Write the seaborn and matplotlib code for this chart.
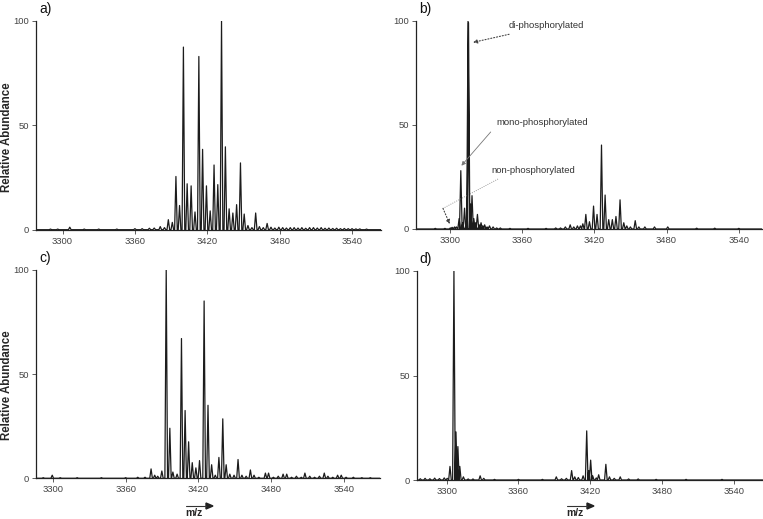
import seaborn as sns
import matplotlib.pyplot as plt
import numpy as np

# peak lists (m/z, relative abundance)
mz_a = [3290, 3296, 3306, 3318, 3330, 3345, 3360, 3366, 3372, 3376, 3381, 3384.5,
        3387.7, 3391, 3394, 3397, 3400.2, 3403.3, 3406.6, 3409.8, 3413, 3416.1,
        3419.3, 3422.4, 3425.6, 3428.7, 3431.8, 3435, 3438.1, 3441.2, 3444.3,
        3447.5, 3450.6, 3453.7, 3457, 3460.1, 3463.2, 3466.4, 3469.6, 3472.8,
        3476, 3479.3, 3482.5, 3485.6, 3488.8, 3492, 3495.2, 3498.4, 3501.6,
        3504.8, 3508, 3511.2, 3514.4, 3517.6, 3520.8, 3524, 3527.2, 3530.4,
        3533.6, 3536.8, 3540, 3543.2, 3546.4, 3552]
int_a = [0.3, 0.3, 1.2, 0.3, 0.3, 0.3, 0.5, 0.5, 0.7, 0.8, 1.5, 1.0,
         4.8, 3.5, 25.5, 11.6, 87.5, 22, 21, 8.5, 83, 38.5,
         21, 9, 31, 21.6, 100, 39.7, 10, 8, 12,
         32, 7.5, 2, 1, 8, 1.5, 1, 3, 1.2,
         0.8, 1.2, 1, 0.8, 1, 1, 0.8, 1, 0.7,
         1, 1, 0.8, 1, 0.7, 0.8, 0.6, 0.7, 0.5,
         0.6, 0.5, 0.5, 0.4, 0.4, 0.3]

mz_b = [3288, 3296, 3300.5, 3302, 3304, 3305.5, 3307.8, 3309.2, 3310.8, 3312.3,
        3313.8, 3315.2, 3315.6, 3317.2, 3318.5, 3320, 3321.5, 3323, 3324.5, 3326,
        3327.5, 3329, 3331, 3333, 3336, 3339, 3342, 3350, 3365, 3380, 3388, 3392,
        3396, 3400, 3403, 3406, 3408.5, 3410.5, 3413, 3416, 3419.4, 3422.3, 3426,
        3429, 3432, 3435, 3438, 3441.4, 3444.5, 3447, 3450, 3454, 3457, 3462,
        3470, 3481, 3505, 3520, 3540]
int_b = [0.3, 0.3, 0.5, 0.8, 1, 1, 5, 28, 3, 10,
         2, 100, 99, 12, 16, 5, 3, 7, 2, 3,
         1.5, 2, 1, 1.5, 1, 0.5, 0.5, 0.3, 0.3, 0.3, 0.5, 0.5,
         1, 2, 1, 1.5, 1.5, 2.5, 7, 3.5, 11, 7, 40.3,
         16.3, 4.5, 4.5, 6, 14, 3, 1.5, 1, 4, 1, 1,
         1, 1, 0.4, 0.4, 0.3]

mz_c = [3292, 3299.4, 3306, 3320, 3340, 3360, 3370, 3376, 3381, 3384, 3386.5,
        3389.9, 3393.5, 3396.5, 3399, 3402.5, 3406.1, 3409.1, 3412, 3415, 3418,
        3421, 3424.8, 3428, 3431, 3434, 3437, 3440.2, 3443, 3446, 3449.5,
        3452.8, 3456, 3459.5, 3463, 3466, 3470, 3475.4, 3478, 3482, 3486,
        3490, 3493, 3497, 3501, 3505, 3508, 3512, 3516, 3520, 3524, 3527,
        3531, 3535, 3538, 3542, 3548, 3555, 3562]
int_c = [0.3, 1.5, 0.3, 0.3, 0.3, 0.3, 0.5, 0.5, 4.5, 1.5, 1,
         3.5, 100, 24, 3, 2, 67, 32.5, 17.5, 7.5, 5,
         8.5, 85, 35, 6.5, 1.5, 10, 28.5, 6.5, 2, 1.5,
         9, 1.5, 1, 4, 1.5, 0.5, 2.5, 2.5, 0.5, 1,
         2, 2, 0.5, 1, 0.5, 2.5, 1, 0.5, 1, 2.5, 1,
         0.5, 1.5, 1.5, 0.5, 0.5, 0.3, 0.3]

mz_d = [3278, 3282, 3286, 3290, 3294, 3298, 3300.5, 3302.8, 3306.1, 3307.8,
        3309.4, 3311, 3314, 3318, 3322, 3328, 3331, 3340, 3360, 3380, 3391.6,
        3396, 3400, 3404.4, 3407, 3410, 3414, 3417, 3418.7, 3420.3, 3422, 3425,
        3427, 3433, 3436, 3440, 3445, 3452, 3460, 3475, 3500, 3530]
int_d = [0.6, 0.8, 0.6, 0.9, 0.7, 1, 0.8, 6.5, 100, 23,
         16, 6.5, 1.5, 0.5, 0.5, 2, 0.8, 0.3, 0.3, 0.3, 1.5,
         0.6, 0.8, 4.5, 1.5, 1.2, 2, 23.5, 4.5, 9.5, 2, 1,
         2.5, 7.5, 1.5, 0.8, 1.5, 0.5, 0.5, 0.3, 0.3, 0.3]

panels = [
    ("a)", mz_a, int_a, (3278, 3564), [36, 21, 381, 229.7]),
    ("b)", mz_b, int_b, (3272, 3559), [416, 20.7, 761.7, 229]),
    ("c)", mz_c, int_c, (3286, 3570), [36, 269.7, 380, 478.3]),
    ("d)", mz_d, int_d, (3275, 3564), [416.7, 271, 762.7, 480]),
]

W, H = 763, 519
HALF = 1.1  # half width of a peak at its base, in m/z


def profile(mz, inten, xlim):
    # turn a peak list into a profile trace: baseline - apex - baseline
    xs, ys = [xlim[0]], [0.0]
    for m, h in zip(mz, inten):
        xs += [m - HALF, m, m + HALF]
        ys += [0.0, h, 0.0]
    xs.append(xlim[1])
    ys.append(0.0)
    return np.array(xs), np.array(ys)


sns.set_style("ticks")
plt.rcParams['font.family'] = ['Liberation Sans', 'DejaVu Sans']

fig = plt.figure(figsize=(W / 100, H / 100), dpi=100)
axes = {}
for label, mz, inten, xlim, (x0, y0, x1, y1) in panels:
    ax = fig.add_axes([x0 / W, 1 - y1 / H, (x1 - x0) / W, (y1 - y0) / H])
    xs, ys = profile(mz, inten, xlim)
    sns.lineplot(x=xs, y=ys, sort=False, estimator=None, ax=ax,
                 color="#1c1c1c", linewidth=0.9)
    ax.set_xlim(*xlim)
    ax.set_ylim(0, 100)
    ax.set_xticks([3300, 3360, 3420, 3480, 3540])
    ax.set_yticks([0, 50, 100])
    ax.tick_params(direction="out", length=3, width=0.6, labelsize=6.8,
                   labelcolor="#444444", color="#444444", pad=2)
    sns.despine(ax=ax)
    for s in ("left", "bottom"):
        ax.spines[s].set_linewidth(0.9)
        ax.spines[s].set_color("#222222")
    ax.set_xlabel("")
    ax.set_ylabel("")
    fig.text((x0 + 3) / W, 1 - (y0 - 12) / H, label, fontsize=10,
             ha="left", va="center", color="#111111")
    axes[label] = ax

# y labels
for yc in (137, 385):
    fig.text(7 / W, 1 - yc / H, "Relative Abundance", rotation=90,
             fontsize=8.3, fontweight="bold", ha="center", va="center")

# m/z labels with arrows
for xa in (186, 567):
    fig.text((xa + 8) / W, 1 - 513 / H, "m/z", fontsize=7.5, fontweight="bold",
             ha="center", va="center")
    fig.add_artist(plt.Line2D([xa / W, (xa + 20) / W], [1 - 506 / H, 1 - 506 / H],
                              color="#333333", lw=0.8))
    fig.add_artist(plt.Polygon([[(xa + 20) / W, 1 - 503 / H], [(xa + 27) / W, 1 - 506 / H],
                                [(xa + 20) / W, 1 - 509 / H]], closed=True,
                               color="#222222"))

# annotations in b)
ax = axes["b)"]
tc = "#333333"
ax.annotate("di-phosphorylated", xy=(3319.4, 89.6), xytext=(3349, 97.5),
            fontsize=6.8, color=tc, ha="left", va="center",
            arrowprops=dict(arrowstyle="-|>", linestyle=":", color="#444444",
                            lw=0.8, mutation_scale=6, shrinkA=2, shrinkB=0))
ax.annotate("mono-phosphorylated", xy=(3309.7, 30.4), xytext=(3339, 51.2),
            fontsize=6.8, color=tc, ha="left", va="center",
            arrowprops=dict(arrowstyle="-|>", color="#777777",
                            lw=0.6, mutation_scale=6, shrinkA=3, shrinkB=0,
                            relpos=(0, 0.2)))
ax.text(3334.6, 28.3, "non-phosphorylated", fontsize=6.8, color=tc,
        ha="left", va="center")
ax.plot([3340.1, 3294.4], [24, 9.9], color="#777777", lw=0.6, linestyle=":")
ax.annotate("", xy=(3300, 2.4), xytext=(3294.4, 9.9),
            arrowprops=dict(arrowstyle="-|>", linestyle=":", color="#444444",
                            lw=0.8, mutation_scale=6, shrinkA=0, shrinkB=0))

fig.savefig("out.png", dpi=100)
